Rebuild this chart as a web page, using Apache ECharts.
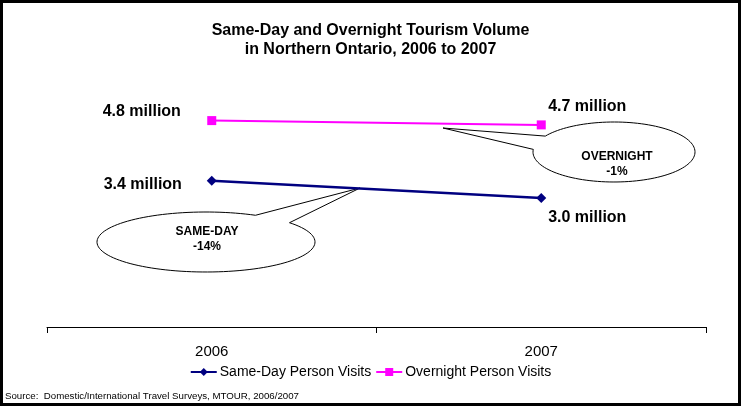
<!DOCTYPE html>
<html>
<head>
<meta charset="utf-8">
<script src="https://cdn.jsdelivr.net/npm/echarts@6/dist/echarts.min.js"></script>
<style>
  html, body { margin: 0; padding: 0; background: #fff; }
  #chart { width: 741px; height: 406px; }
</style>
</head>
<body>
<div id="chart"></div>
<script>
// Tourism volume (millions of person visits) in Northern Ontario
const years = ['2006', '2007'];
const sameDayVisits = [3.4, 3.0];
const overnightVisits = [4.8, 4.7];
const seriesNames = ['Same-Day Person Visits', 'Overnight Person Visits'];

const FONT = '"Liberation Sans", Arial, sans-serif';
const chart = echarts.init(document.getElementById('chart'));

// Label placement for each point: 2006 labels sit to the left, 2007 to the right
function labelled(values, offsets) {
  return values.map((v, i) => ({
    value: v,
    label: { offset: offsets[i] }
  }));
}

const valueLabel = {
  show: true,
  position: 'inside',
  align: 'center',
  verticalAlign: 'middle',
  fontFamily: FONT,
  fontWeight: 'bold',
  fontSize: 16,
  color: '#000',
  formatter: p => p.value.toFixed(1) + ' million'
};

// Speech-bubble callout: ellipse outline traced from a2 round to a1 (the long way),
// then out to the tip of the wedge
function bubble(cx, cy, rx, ry, a1, a2, tip) {
  const pts = [];
  const steps = 120;
  const span = 360 - (a2 - a1);
  for (let i = 0; i <= steps; i++) {
    const a = (a2 + span * i / steps) * Math.PI / 180;
    pts.push([cx + rx * Math.cos(a), cy + ry * Math.sin(a)]);
  }
  pts.push(tip);
  return {
    type: 'polygon',
    shape: { points: pts },
    style: { fill: '#fff', stroke: '#000', lineWidth: 1 },
    z: 1
  };
}

function bubbleText(x, y, text) {
  return {
    type: 'text',
    x: x, y: y,
    style: {
      text: text, fill: '#000', font: 'bold 12px ' + FONT,
      align: 'center', verticalAlign: 'middle', lineHeight: 15
    },
    z: 2
  };
}

const option = {
  animation: false,
  backgroundColor: '#fff',
  title: {
    text: 'Same-Day and Overnight Tourism Volume\nin Northern Ontario, 2006 to 2007',
    left: 'center',
    top: 16,
    textStyle: { fontFamily: FONT, fontWeight: 'bold', fontSize: 16, lineHeight: 19, color: '#000' }
  },
  legend: {
    bottom: 27,
    left: 'center',
    padding: 0,
    itemWidth: 26,
    itemHeight: 10,
    itemGap: 4,
    textStyle: { fontFamily: FONT, fontSize: 14, color: '#000', padding: [0, 0, 0, -2] },
    data: seriesNames
  },
  grid: { left: 47, right: 35, top: 69, bottom: 79 },
  xAxis: {
    type: 'category',
    data: years,
    boundaryGap: true,
    axisLine: { lineStyle: { color: '#000', width: 1 } },
    axisTick: { show: true, length: 6, lineStyle: { color: '#000' } },
    axisLabel: { fontFamily: FONT, fontSize: 15, color: '#000', margin: 17 }
  },
  yAxis: {
    type: 'value',
    min: 0,
    max: 6,
    show: false,
    splitLine: { show: false }
  },
  series: [
    {
      name: seriesNames[0],
      type: 'line',
      data: labelled(sameDayVisits, [[-69, 4], [46, 20]]),
      symbol: 'diamond',
      symbolSize: 10,
      lineStyle: { color: '#000080', width: 2.5 },
      itemStyle: { color: '#000080' },
      label: valueLabel,
      z: 3
    },
    {
      name: seriesNames[1],
      type: 'line',
      data: labelled(overnightVisits, [[-70, -9], [46, -18]]),
      symbol: 'rect',
      symbolSize: 9,
      lineStyle: { color: '#FF00FF', width: 2 },
      itemStyle: { color: '#FF00FF' },
      label: valueLabel,
      z: 3
    }
  ],
  graphic: [
    {
      type: 'rect',
      shape: { x: 1.5, y: 1.5, width: 738, height: 403 },
      style: { fill: null, stroke: '#000', lineWidth: 3 },
      silent: true
    },
    bubble(614, 152, 81, 30, 185, 212, [443, 128]),
    bubbleText(617, 164, 'OVERNIGHT\n-1%'),
    bubble(206, 242, 109, 30, -63, -40, [360, 188]),
    bubbleText(207, 239, 'SAME-DAY\n-14%'),
    {
      type: 'text',
      x: 5, y: 396,
      style: {
        text: 'Source:  Domestic/International Travel Surveys, MTOUR, 2006/2007',
        fill: '#000', font: '9.7px ' + FONT, verticalAlign: 'middle'
      }
    }
  ]
};

chart.setOption(option);
</script>
</body>
</html>
